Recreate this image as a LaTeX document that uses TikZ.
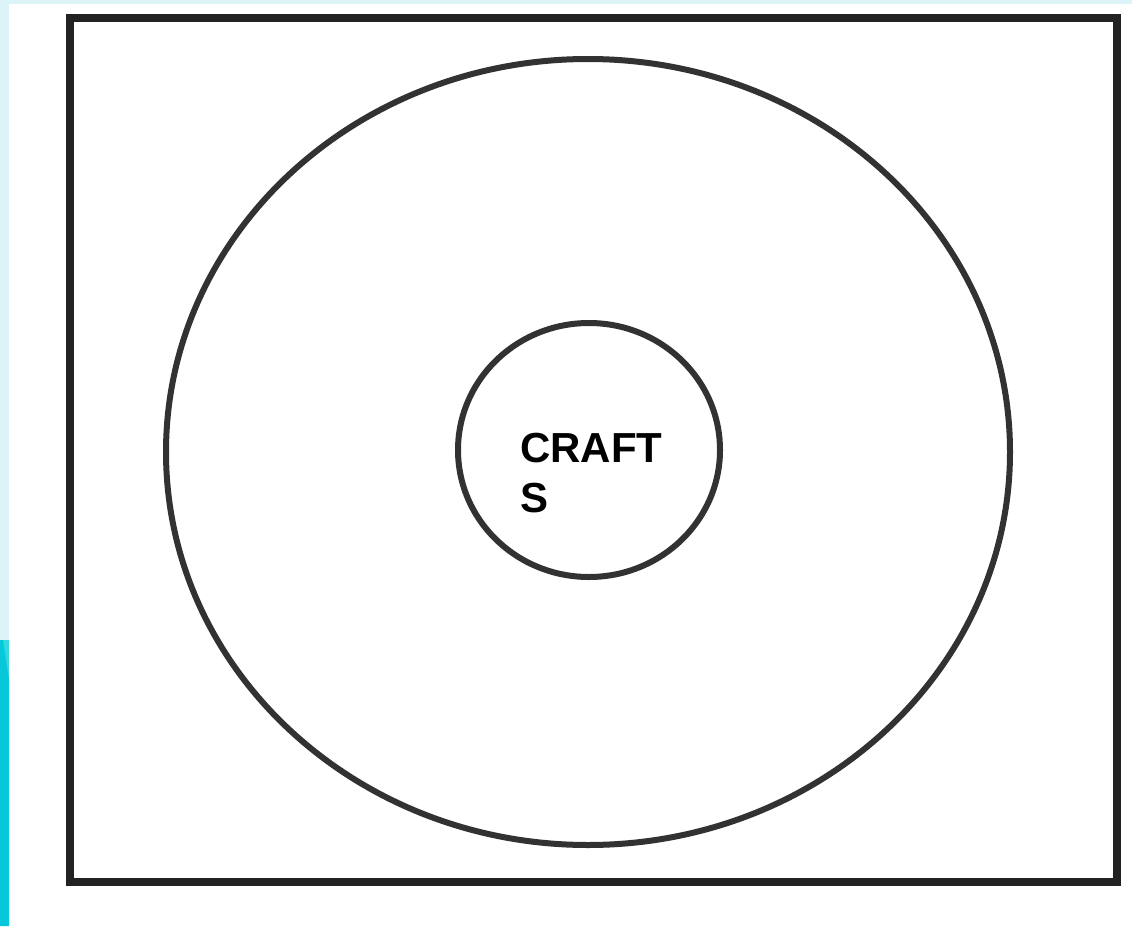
\documentclass[tikz,border=0pt]{standalone}
\usepackage{fontspec}
\setmainfont{Liberation Sans}
\definecolor{lcyan}{RGB}{220,244,248}
\definecolor{dcyan}{RGB}{6,200,218}
\definecolor{mcyan}{RGB}{52,216,224}
\definecolor{frame}{RGB}{34,34,34}
\definecolor{ring}{RGB}{50,50,50}
\begin{document}
\begin{tikzpicture}[x=1pt,y=-1pt,
  ringline/.style={draw=ring,line width=6pt},
  label/.style={font=\fontsize{42}{50}\selectfont\bfseries,align=left,inner sep=0pt}]
\useasboundingbox (0,0) rectangle (1132,926);
\fill[white] (0,0) rectangle (1132,926);
\fill[lcyan] (0,0) rectangle (1132,4);
\fill[lcyan] (0,0) rectangle (9,640);
\fill[mcyan] (0,640) rectangle (9,690);
\fill[dcyan] (0,690) -- (0,926) -- (9,926) -- (9,680) -- (3,640) -- (0,640) -- cycle;
\draw[draw=frame,line width=8pt] (70,18) rectangle (1117,882);
\draw[ringline] (588,452) ellipse [x radius=422, y radius=393];
\draw[ringline] (589,450) ellipse [x radius=131, y radius=127];
\node[label,anchor=base west] (crafts) at (520,512) {CRAFT\\S};
\end{tikzpicture}
\end{document}
